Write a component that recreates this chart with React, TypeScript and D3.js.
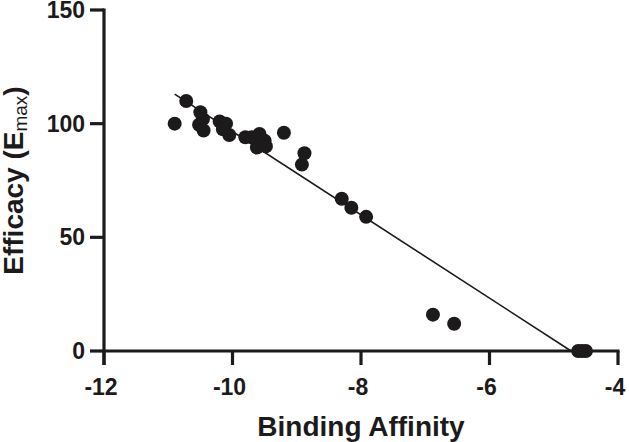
import { useMemo } from "react";
import * as d3 from "d3";

const width = 629;
const height = 442;
const margin = { top: 10, right: 11, bottom: 91, left: 104 };

// binding affinity (log units) and efficacy (Emax %)
const affinity = [
  -10.9, -10.72, -10.5, -10.46, -10.52, -10.45, -10.2, -10.1, -10.15, -10.05,
  -9.8, -9.7, -9.58, -9.5, -9.62, -9.48, -9.2, -8.88, -8.92, -8.3, -8.15,
  -7.92, -6.88, -6.55, -4.62, -4.56, -4.5,
];
const efficacy = [
  100, 110, 105, 102, 99.5, 97, 101, 100, 97.5, 95, 94, 94, 95.5, 92.5, 89.5,
  90, 96, 87, 82, 67, 63, 59, 16, 12, 0, 0, 0,
];

// regression line end points
const fitX = [-10.9, -4.73];
const fitY = [113, 0];

const xTicks = [-12, -10, -8, -6, -4];
const yTicks = [0, 50, 100, 150];

const font = "'Liberation Sans', Arial, sans-serif";
const ink = "#1c1a1b";

const App = () => {
  const { xScale, yScale, fitPath, points } = useMemo(() => {
    const xScale = d3
      .scaleLinear()
      .domain([-12, -4])
      .range([margin.left, width - margin.right]);
    const yScale = d3
      .scaleLinear()
      .domain([0, 150])
      .range([height - margin.bottom, margin.top]);

    const line = d3
      .line<number>()
      .x((d) => xScale(d))
      .y((_, i) => yScale(fitY[i]));
    const fitPath = line(fitX);

    const points = affinity.map((a, i) => ({ x: xScale(a), y: yScale(efficacy[i]) }));
    return { xScale, yScale, fitPath, points };
  }, []);

  const x0 = xScale(-12);
  const y0 = yScale(0);

  return (
    <svg
      width={width}
      height={height}
      style={{ position: "absolute", left: 0, top: 0, background: "#fff" }}
    >
      {/* y axis */}
      <line x1={x0} x2={x0} y1={yScale(150) - 1.5} y2={y0 + 14} stroke={ink} strokeWidth={3.2} />
      {yTicks.map((t) => (
        <g key={t}>
          <line x1={x0 - 14} x2={x0} y1={yScale(t)} y2={yScale(t)} stroke={ink} strokeWidth={3.2} />
          <text
            x={x0 - 19}
            y={yScale(t)}
            dy="0.35em"
            textAnchor="end"
            fontFamily={font}
            fontWeight="bold"
            fontSize={23}
            fill={ink}
          >
            {t}
          </text>
        </g>
      ))}

      {/* x axis */}
      <line x1={x0} x2={xScale(-4) + 1.5} y1={y0} y2={y0} stroke={ink} strokeWidth={3.2} />
      {xTicks.map((t) => (
        <g key={t}>
          <line x1={xScale(t)} x2={xScale(t)} y1={y0} y2={y0 + 14} stroke={ink} strokeWidth={3.2} />
          <text
            x={xScale(t) - 3}
            y={y0 + 44}
            textAnchor="middle"
            fontFamily={font}
            fontWeight="bold"
            fontSize={23}
            fill={ink}
          >
            {t}
          </text>
        </g>
      ))}

      {/* fit line */}
      <path d={fitPath ?? undefined} fill="none" stroke={ink} strokeWidth={1.6} />

      {/* data points */}
      {points.map((p, i) => (
        <circle key={i} cx={p.x} cy={p.y} r={7} fill={ink} />
      ))}

      {/* axis titles */}
      <text
        x={(xScale(-12) + xScale(-4)) / 2}
        y={436}
        textAnchor="middle"
        fontFamily={font}
        fontWeight="bold"
        fontSize={28}
        fill={ink}
      >
        Binding Affinity
      </text>
      <text
        transform={`translate(23, ${yScale(75)}) rotate(-90)`}
        textAnchor="middle"
        fontFamily={font}
        fontWeight="bold"
        fontSize={28}
        fill={ink}
      >
        Efficacy (E
        <tspan fontSize={19} fontWeight="normal" dy={4}>
          max
        </tspan>
        <tspan dy={-4}>)</tspan>
      </text>
    </svg>
  );
};

export default App;
